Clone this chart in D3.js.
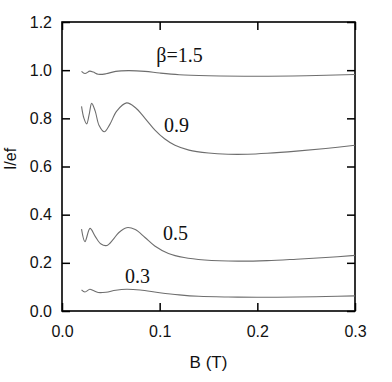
<!DOCTYPE html>
<html>
<head>
<meta charset="utf-8">
<script src="https://cdn.jsdelivr.net/npm/d3@7"></script>
<style>
  html, body { margin: 0; padding: 0; background: #fff; }
  svg { display: block; }
  .tick text { font-family: "Liberation Sans", Arial, sans-serif; font-size: 16px; fill: #111; }
</style>
</head>
<body>
<div id="chart"></div>
<script>
// curve values, B in tesla, I/ef
const b15 = [0.020, 0.0235, 0.0285, 0.032, 0.037, 0.045, 0.055, 0.068, 0.085, 0.10, 0.12, 0.15, 0.20, 0.25, 0.30];
const i15 = [0.995, 0.986, 0.996, 0.992, 0.983, 0.985, 0.995, 0.998, 0.995, 0.988, 0.981, 0.977, 0.975, 0.977, 0.982];

const b09 = [0.020, 0.0225, 0.0253, 0.028, 0.0304, 0.034, 0.038, 0.0433, 0.049, 0.056, 0.0662, 0.075, 0.085, 0.0952, 0.105, 0.1157, 0.13, 0.15, 0.17, 0.19, 0.21, 0.24, 0.27, 0.30];
const i09 = [0.850, 0.800, 0.777, 0.820, 0.862, 0.830, 0.770, 0.744, 0.775, 0.830, 0.864, 0.845, 0.800, 0.751, 0.715, 0.688, 0.668, 0.656, 0.651, 0.651, 0.655, 0.664, 0.675, 0.688];

const b05 = [0.020, 0.0235, 0.0287, 0.034, 0.040, 0.0458, 0.052, 0.058, 0.0662, 0.075, 0.085, 0.095, 0.109, 0.125, 0.146, 0.18, 0.21, 0.24, 0.27, 0.30];
const i05 = [0.340, 0.288, 0.343, 0.310, 0.278, 0.272, 0.295, 0.325, 0.346, 0.338, 0.305, 0.270, 0.239, 0.222, 0.212, 0.207, 0.209, 0.215, 0.222, 0.231];

const b03 = [0.020, 0.0235, 0.0285, 0.032, 0.037, 0.045, 0.055, 0.066, 0.080, 0.10, 0.12, 0.14, 0.17, 0.20, 0.24, 0.27, 0.30];
const i03 = [0.088, 0.079, 0.090, 0.085, 0.077, 0.078, 0.086, 0.090, 0.087, 0.076, 0.067, 0.061, 0.058, 0.057, 0.058, 0.060, 0.063];

const curveLabels = ["\u03B2=1.5", "0.9", "0.5", "0.3"];
const xTicks = [0.0, 0.1, 0.2, 0.3];
const yTicks = [0.0, 0.2, 0.4, 0.6, 0.8, 1.0, 1.2];

const W = 392, H = 382;
const m = { left: 62, right: 37, top: 22, bottom: 71 };

const svg = d3.select("#chart").append("svg")
    .attr("width", W)
    .attr("height", H);

const x = d3.scaleLinear().domain([0, 0.3]).range([m.left, W - m.right]);
const y = d3.scaleLinear().domain([0, 1.2]).range([H - m.bottom, m.top]);

// Axes, ticks pointing inward
svg.append("g")
    .attr("transform", `translate(${m.left},0)`)
    .call(d3.axisLeft(y).tickValues(yTicks).tickFormat(d3.format(".1f")).tickSize(-8).tickPadding(10));
svg.append("g")
    .attr("transform", `translate(${W - m.right},0)`)
    .call(d3.axisRight(y).tickValues(yTicks).tickFormat("").tickSize(-8));
svg.append("g")
    .attr("transform", `translate(0,${H - m.bottom})`)
    .call(d3.axisBottom(x).tickValues(xTicks).tickFormat(d3.format(".1f")).tickSize(-8).tickPadding(15));
svg.append("g")
    .attr("transform", `translate(0,${m.top})`)
    .call(d3.axisTop(x).tickValues(xTicks).tickFormat("").tickSize(-8));

svg.selectAll(".domain").remove();
svg.selectAll(".tick line").attr("stroke", "#000").attr("stroke-width", 1.5);

// frame
svg.append("rect")
    .attr("x", m.left)
    .attr("y", m.top)
    .attr("width", W - m.left - m.right)
    .attr("height", H - m.top - m.bottom)
    .attr("fill", "none")
    .attr("stroke", "#000")
    .attr("stroke-width", 1.6);

// curves
const line = d3.line()
    .x(d => x(d[0]))
    .y(d => y(d[1]))
    .curve(d3.curveCatmullRom.alpha(0.5));

const series = [[b15, i15], [b09, i09], [b05, i05], [b03, i03]];
series.forEach(([bs, is]) => {
    svg.append("path")
        .datum(bs.map((b, i) => [b, is[i]]))
        .attr("fill", "none")
        .attr("stroke", "#6e6e6e")
        .attr("stroke-width", 1.1)
        .attr("d", line);
});

// curve labels (serif, like the original)
const labelPos = [[0.0966, 1.035], [0.1045, 0.745], [0.1035, 0.295], [0.0645, 0.115]];
svg.selectAll(".clabel")
    .data(curveLabels)
    .enter()
    .append("text")
    .attr("class", "clabel")
    .attr("x", (d, i) => x(labelPos[i][0]))
    .attr("y", (d, i) => y(labelPos[i][1]))
    .style("font-family", "'Liberation Serif', 'Times New Roman', serif")
    .style("font-size", "20px")
    .style("fill", "#111")
    .text(d => d);

// axis titles
svg.append("text")
    .attr("x", (m.left + W - m.right) / 2)
    .attr("y", 368)
    .attr("text-anchor", "middle")
    .style("font-family", "'Liberation Sans', Arial, sans-serif")
    .style("font-size", "17px")
    .style("fill", "#111")
    .text("B (T)");

svg.append("text")
    .attr("transform", "translate(16,159) rotate(-90)")
    .attr("text-anchor", "middle")
    .style("font-family", "'Liberation Sans', Arial, sans-serif")
    .style("font-size", "16px")
    .style("fill", "#111")
    .text("I/ef");
</script>
</body>
</html>
